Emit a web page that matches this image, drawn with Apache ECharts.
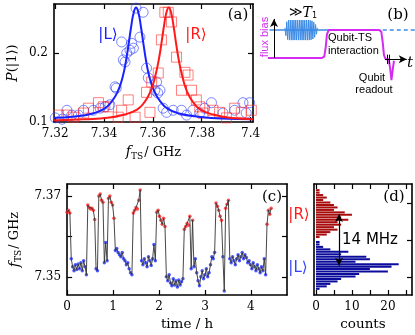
<!DOCTYPE html>
<html>
<head>
<meta charset="utf-8">
<script src="https://cdn.jsdelivr.net/npm/echarts@6/dist/echarts.min.js"></script>
<style>
  html, body { margin: 0; padding: 0; background: #fff; }
  #chart { width: 415px; height: 335px; }
</style>
</head>
<body>
<div id="chart"></div>
<script>
// (a) qubit response vs TS frequency, [f_TS (GHz), P(|1>)]
const circlesL = [[7.3200,0.106],[7.3228,0.104],[7.3248,0.117],[7.3268,0.110],[7.3295,0.110],[7.3316,0.117],
  [7.3356,0.117],[7.3384,0.120],[7.3404,0.122],[7.3424,0.125],[7.3445,0.151],[7.3450,0.149],[7.3472,0.216],
  [7.3479,0.190],[7.3486,0.187],[7.3493,0.200],[7.3506,0.204],[7.3513,0.214],[7.3520,0.207],[7.3531,0.265],
  [7.3547,0.223],[7.3560,0.259],[7.3574,0.178],[7.3581,0.164],[7.3608,0.146],[7.3615,0.158],[7.3620,0.142],
  [7.3629,0.146],[7.3642,0.120],[7.3656,0.114],[7.3683,0.117],[7.3717,0.117],[7.3738,0.110],[7.3764,0.117],
  [7.3792,0.113],[7.3812,0.120],[7.3840,0.128],[7.3887,0.113],[7.3935,0.117],[7.3969,0.128],[7.3982,0.113],[7.3996,0.128]];
const squaresR = [[7.3193,0.106],[7.3213,0.110],[7.3248,0.110],[7.3275,0.107],[7.3316,0.113],[7.3336,0.120],
  [7.3377,0.128],[7.3397,0.122],[7.3418,0.122],[7.3458,0.107],[7.3472,0.117],[7.3499,0.132],[7.3527,0.107],
  [7.3574,0.143],[7.3588,0.114],[7.3595,0.158],[7.3622,0.171],[7.3635,0.219],[7.3649,0.259],[7.3663,0.259],
  [7.3676,0.245],[7.3697,0.194],[7.3717,0.146],[7.3731,0.172],[7.3744,0.168],[7.3758,0.146],[7.3778,0.132],
  [7.3792,0.122],[7.3805,0.113],[7.3846,0.117],[7.3873,0.114],[7.3901,0.106],[7.3935,0.120],[7.3962,0.114],[7.4003,0.117]];
const fitL = [[7.3195,0.106],[7.328,0.108],[7.335,0.112],[7.340,0.119],[7.343,0.129],[7.3456,0.144],[7.3476,0.165],
  [7.3491,0.191],[7.3501,0.214],[7.3511,0.238],[7.3521,0.258],[7.3531,0.266],[7.3541,0.258],[7.3551,0.238],
  [7.3561,0.214],[7.3571,0.191],[7.3586,0.165],[7.3606,0.144],[7.3632,0.129],[7.3661,0.119],[7.3711,0.112],
  [7.3781,0.108],[7.3881,0.105],[7.401,0.104]];
const fitR = [[7.3195,0.102],[7.3315,0.104],[7.3415,0.106],[7.3485,0.111],[7.3535,0.118],[7.3564,0.128],[7.359,0.144],
  [7.361,0.167],[7.3625,0.192],[7.3635,0.214],[7.3645,0.238],[7.3655,0.258],[7.3665,0.266],[7.3675,0.258],
  [7.3685,0.238],[7.3695,0.214],[7.3705,0.192],[7.372,0.167],[7.374,0.144],[7.3766,0.128],[7.3795,0.118],
  [7.3845,0.111],[7.3915,0.106],[7.401,0.104]];

// (b) pulse sketch, time in arbitrary units, flux in units of the TS step
const pulseT = [4, 40, 41.5, 42.5, 43.3, 44.5, 78, 79.5, 80.5, 81.3, 82.5, 84.5, 85.5, 86.3, 87.2, 88];
const pulseF = [0, 0, 0.05, 0.4, 0.85, 1, 1, 0.95, 0.55, 0.1, -0.05, -0.05, -0.4, -0.8, -0.4, -0.1];
const burstStart = 15.3, burstStep = 0.6;
const burstF = [1.08, 0.8, 1.3, 0.66, 1.36, 0.64, 1.36, 0.64, 1.36, 0.64, 1.36, 0.64, 1.36, 0.64, 1.36, 0.64,
  1.36, 0.64, 1.36, 0.64, 1.36, 0.64, 1.36, 0.64, 1.36, 0.64, 1.36, 0.64, 1.35, 0.65, 1.33, 0.68, 1.28, 0.74, 1.2, 0.85, 1.08];

// (c) TS frequency trace
const traceStep = 0.03; // h
const traceF = [
  7.3660, 7.3665, 7.3658,
  7.3545, 7.3525, 7.3515, 7.3530, 7.3518, 7.3532, 7.3520, 7.3535, 7.3515, 7.3540, 7.3525, 7.3505,
  7.3678, 7.3672, 7.3668, 7.3670, 7.3665, 7.3642,
  7.3520, 7.3515,
  7.3700, 7.3705, 7.3690, 7.3685,
  7.3535, 7.3585, 7.3540,
  7.3695, 7.3700, 7.3685, 7.3678, 7.3645,
  7.3565, 7.3570, 7.3560, 7.3555, 7.3550, 7.3560, 7.3545, 7.3540, 7.3530, 7.3535, 7.3520, 7.3510, 7.3505,
  7.3658, 7.3665, 7.3672, 7.3668, 7.3690, 7.3715,
  7.3540, 7.3530, 7.3545, 7.3535, 7.3525, 7.3550, 7.3540, 7.3528, 7.3545, 7.3580, 7.3540,
  7.3660, 7.3665, 7.3650, 7.3640, 7.3630, 7.3645, 7.3625,
  7.3500, 7.3490, 7.3505, 7.3485, 7.3478, 7.3495, 7.3480, 7.3490, 7.3475, 7.3492, 7.3480, 7.3488, 7.3495,
  7.3618, 7.3625, 7.3632, 7.3628, 7.3650, 7.3520, 7.3640,
  7.3525, 7.3545, 7.3510, 7.3490, 7.3478, 7.3500, 7.3515, 7.3495, 7.3505, 7.3520, 7.3500, 7.3510, 7.3530, 7.3550, 7.3545, 7.3560,
  7.3683, 7.3675, 7.3665, 7.3650, 7.3640,
  7.3550, 7.3465,
  7.3670, 7.3680, 7.3690,
  7.3545, 7.3535, 7.3550, 7.3540, 7.3530, 7.3545, 7.3555, 7.3540, 7.3550, 7.3560, 7.3545, 7.3555, 7.3548, 7.3535,
  7.3540, 7.3530, 7.3520, 7.3535, 7.3525, 7.3515, 7.3530, 7.3520, 7.3510, 7.3525, 7.3515, 7.3545, 7.3505,
  7.3630, 7.3665, 7.3655, 7.3670
];
const stateSplit = 7.36;

// (d) histogram of the trace, bins from top (high f) to bottom
const binCount = 45;
const firstBinR = 2, firstBinL = 23;
const countsR = [1, 1, 2, 3, 2, 4, 5, 6, 5, 8, 10, 7, 9, 6, 7, 5, 6, 4, 3, 1];
const countsL = [1, 1, 2, 4, 9, 7, 14, 15, 11, 23, 21, 15, 20, 12, 11, 7, 6, 4, 3, 1];
const stateL = 7.353, stateR = 7.367;

const RED = '#ff2222', BLUE = '#2233ff', MAGENTA = '#d42cf0', SKY = '#3b8ae6';
const serif = 'DejaVu Serif';

const trace = traceF.map((f, i) => [+(i * traceStep).toFixed(2), f]);
const burst = burstF.map((f, i) => [burstStart + i * burstStep, f]);
const pulse = pulseT.map((t, i) => [t, pulseF[i]]);
const barsR = Array(binCount).fill('-');
const barsL = Array(binCount).fill('-');
countsR.forEach((c, i) => { barsR[firstBinR + i] = c; });
countsL.forEach((c, i) => { barsL[firstBinL + i] = c; });
const binNames = Array.from({ length: binCount }, (_, i) => 'b' + i);

const axisLine = { show: true, onZero: false, lineStyle: { color: '#000', width: 1.6 } };
const labelFont = { fontFamily: serif, fontSize: 12, color: '#000' };
const nameRich = {
  i: { fontFamily: serif, fontStyle: 'italic', fontSize: 14, color: '#000' },
  s: { fontFamily: serif, fontSize: 9, color: '#000', padding: [8, 1, 0, 0] },
  n: { fontFamily: serif, fontSize: 13, color: '#000' }
};

function ax(gridIndex, position, min, max, ticks, labels, extra) {
  return Object.assign({
    gridIndex, type: 'value', position, min, max,
    axisLine, splitLine: { show: false },
    axisTick: { show: ticks.length > 0, inside: true, length: 5, customValues: ticks,
      lineStyle: { color: '#000', width: 1.2 } },
    axisLabel: labels ? Object.assign({ customValues: labels, margin: 6 }, labelFont) : { show: false }
  }, extra || {});
}

const ticksA = [7.32, 7.34, 7.36, 7.38, 7.4];
const ticksC = [0, 1, 2, 3, 4];
const fTicks = [7.35, 7.36, 7.37];

const chart = echarts.init(document.getElementById('chart'));
chart.setOption({
  animation: false,
  backgroundColor: '#fff',
  grid: [
    { left: 54, top: 4, width: 199, height: 118 },
    { left: 262, top: 5, width: 153, height: 85 },
    { left: 53, top: 184, width: 234, height: 111 },
    { left: 314, top: 184, width: 98, height: 111 }
  ],
  xAxis: [
    ax(0, 'bottom', 7.3195, 7.401, ticksA, ticksA, {
      name: '{i|f}{s|TS}{n|/ GHz}', nameLocation: 'middle', nameGap: 22,
      nameTextStyle: { rich: nameRich } }),
    ax(0, 'top', 7.3195, 7.401, ticksA, null),
    { gridIndex: 1, type: 'value', min: 0, max: 102, show: false },
    ax(2, 'bottom', 0, 4.785, ticksC, ticksC, {
      name: 'time / h', nameLocation: 'middle', nameGap: 22,
      nameTextStyle: { fontFamily: serif, fontSize: 13.5, color: '#000', padding: [0, 0, 0, 20] } }),
    ax(2, 'top', 0, 4.785, ticksC, null),
    ax(3, 'bottom', -0.55, 26.7, [0, 5, 10, 15, 20, 25], [0, 10, 20], {
      name: 'counts', nameLocation: 'middle', nameGap: 22,
      nameTextStyle: { fontFamily: serif, fontSize: 13.5, color: '#000' } }),
    ax(3, 'top', -0.55, 26.7, [0, 5, 10, 15, 20, 25], null)
  ],
  yAxis: [
    ax(0, 'left', 0.1, 0.271, [0.2], [0.1, 0.2], {
      name: '{i|P}{n|(|1⟩)}', nameLocation: 'middle', nameGap: 34,
      nameTextStyle: { rich: nameRich } }),
    ax(0, 'right', 0.1, 0.271, [0.2], null),
    { gridIndex: 1, type: 'value', min: -1.15, max: 1.9, show: false },
    ax(2, 'left', 7.3455, 7.373, fTicks, [7.35, 7.37], {
      name: '{i|f}{s|TS}{n|/ GHz}', nameLocation: 'middle', nameGap: 33,
      nameTextStyle: { rich: nameRich } }),
    ax(2, 'right', 7.3455, 7.373, fTicks, null),
    { gridIndex: 3, type: 'category', data: binNames, inverse: true, position: 'left',
      axisLine, axisTick: { show: false }, axisLabel: { show: false } },
    ax(3, 'right', 7.3451, 7.3751, fTicks, null)
  ],
  series: [
    // (a)
    { type: 'scatter', xAxisIndex: 0, yAxisIndex: 0, data: circlesL, symbol: 'circle', symbolSize: 10,
      itemStyle: { color: 'rgba(0,0,0,0)', borderColor: 'rgba(40,60,255,0.75)', borderWidth: 1 } },
    { type: 'scatter', xAxisIndex: 0, yAxisIndex: 0, data: squaresR, symbol: 'rect', symbolSize: 10,
      itemStyle: { color: 'rgba(0,0,0,0)', borderColor: 'rgba(255,40,40,0.75)', borderWidth: 1 } },
    { type: 'line', xAxisIndex: 0, yAxisIndex: 0, data: fitL, smooth: true, showSymbol: false,
      lineStyle: { color: '#1a22ff', width: 2 } },
    { type: 'line', xAxisIndex: 0, yAxisIndex: 0, data: fitR, smooth: true, showSymbol: false,
      lineStyle: { color: '#ff1a1a', width: 2 } },
    // (b)
    { type: 'line', xAxisIndex: 2, yAxisIndex: 2, data: [[5, 1], [79, 1]], showSymbol: false,
      lineStyle: { color: SKY, width: 1.5 } },
    { type: 'line', xAxisIndex: 2, yAxisIndex: 2, data: [[80.5, 1], [102, 1]], showSymbol: false,
      lineStyle: { color: SKY, width: 1.5, type: [4, 3] } },
    { type: 'line', xAxisIndex: 2, yAxisIndex: 2, data: burst, showSymbol: false,
      lineStyle: { color: SKY, width: 1 } },
    { type: 'line', xAxisIndex: 2, yAxisIndex: 2, data: pulse, showSymbol: false,
      lineStyle: { color: MAGENTA, width: 2 } },
    { type: 'line', xAxisIndex: 2, yAxisIndex: 2, data: [],
      markLine: { silent: true, symbol: ['none', 'arrow'], symbolSize: [6, 8], label: { show: false },
        lineStyle: { color: '#000', width: 1, type: 'solid' },
        data: [[{ coord: [8, 0] }, { coord: [8, 1.4] }], [{ coord: [82, -0.05] }, { coord: [96.5, -0.05] }]] } },
    { type: 'line', xAxisIndex: 2, yAxisIndex: 2, data: [],
      markLine: { silent: true, symbol: ['none', 'none'], label: { show: false },
        lineStyle: { color: '#000', width: 1, type: 'solid' },
        data: [[{ coord: [83.4, 0.12] }, { coord: [83.4, -0.22] }], [{ coord: [84.6, 0.12] }, { coord: [84.6, -0.22] }]] } },
    // (c)
    { type: 'line', xAxisIndex: 3, yAxisIndex: 3, data: trace, showSymbol: false,
      lineStyle: { color: '#333', width: 0.9 } },
    { type: 'scatter', xAxisIndex: 3, yAxisIndex: 3, data: trace.filter(p => p[1] > stateSplit),
      symbolSize: 3.5, itemStyle: { color: RED } },
    { type: 'scatter', xAxisIndex: 3, yAxisIndex: 3, data: trace.filter(p => p[1] <= stateSplit),
      symbolSize: 3.5, itemStyle: { color: BLUE } },
    // (d)
    { type: 'bar', xAxisIndex: 5, yAxisIndex: 5, data: barsR, barGap: '-100%', barCategoryGap: '18%',
      itemStyle: { color: '#a80c0c' } },
    { type: 'bar', xAxisIndex: 5, yAxisIndex: 5, data: barsL, barGap: '-100%', barCategoryGap: '18%',
      itemStyle: { color: '#0c0c9c' } },
    { type: 'line', xAxisIndex: 5, yAxisIndex: 6, data: [],
      markLine: { silent: true, symbol: ['arrow', 'arrow'], symbolSize: [6, 8], label: { show: false },
        lineStyle: { color: '#000', width: 1.2, type: 'solid' },
        data: [[{ coord: [6.4, stateL] }, { coord: [6.4, stateR] }]] } }
  ],
  graphic: [
    { type: 'text', x: 238, y: 15, style: { text: '(a)', font: '15px DejaVu Serif', fill: '#000', align: 'center', verticalAlign: 'middle' } },
    { type: 'text', x: 398, y: 15, style: { text: '(b)', font: '15px DejaVu Serif', fill: '#000', align: 'center', verticalAlign: 'middle' } },
    { type: 'text', x: 272, y: 197, style: { text: '(c)', font: '15px DejaVu Serif', fill: '#000', align: 'center', verticalAlign: 'middle' } },
    { type: 'text', x: 394, y: 197, style: { text: '(d)', font: '15px DejaVu Serif', fill: '#000', align: 'center', verticalAlign: 'middle' } },
    { type: 'text', x: 108, y: 35, style: { text: '|L⟩', font: '15px DejaVu Sans', fill: '#1a22ff', align: 'center', verticalAlign: 'middle' } },
    { type: 'text', x: 196, y: 35, style: { text: '|R⟩', font: '15px DejaVu Sans', fill: '#ff1a1a', align: 'center', verticalAlign: 'middle' } },
    { type: 'text', x: 299, y: 215, style: { text: '|R⟩', font: '15px DejaVu Sans', fill: '#ff1a1a', align: 'center', verticalAlign: 'middle' } },
    { type: 'text', x: 298, y: 268, style: { text: '|L⟩', font: '15px DejaVu Sans', fill: '#3344ff', align: 'center', verticalAlign: 'middle' } },
    { type: 'text', x: 370, y: 240, style: { text: '14 MHz', font: '15px DejaVu Sans', fill: '#000', align: 'center', verticalAlign: 'middle' } },
    { type: 'text', x: 265, y: 37, rotation: Math.PI / 2, style: { text: 'flux bias', font: '11px Liberation Sans', fill: MAGENTA, align: 'center', verticalAlign: 'middle' } },
    { type: 'text', x: 289, y: 13, style: { text: '≫{i|T}{s|1}', font: '13px DejaVu Sans', fill: '#000', verticalAlign: 'middle',
      rich: { i: { font: 'italic 14px DejaVu Serif' }, s: { font: '8px DejaVu Sans', padding: [6, 0, 0, 0] } } } },
    { type: 'text', x: 328, y: 38, style: { text: 'Qubit-TS', font: '11px Liberation Sans', fill: '#000', verticalAlign: 'middle' } },
    { type: 'text', x: 328, y: 51, style: { text: 'interaction', font: '11px Liberation Sans', fill: '#000', verticalAlign: 'middle' } },
    { type: 'text', x: 372, y: 78, style: { text: 'Qubit', font: '11px Liberation Sans', fill: '#000', align: 'center', verticalAlign: 'middle' } },
    { type: 'text', x: 374, y: 90, style: { text: 'readout', font: '11px Liberation Sans', fill: '#000', align: 'center', verticalAlign: 'middle' } },
    { type: 'text', x: 410, y: 63, style: { text: 't', font: 'italic 15px DejaVu Serif', fill: '#000', align: 'center', verticalAlign: 'middle' } }
  ]
});
</script>
</body>
</html>
